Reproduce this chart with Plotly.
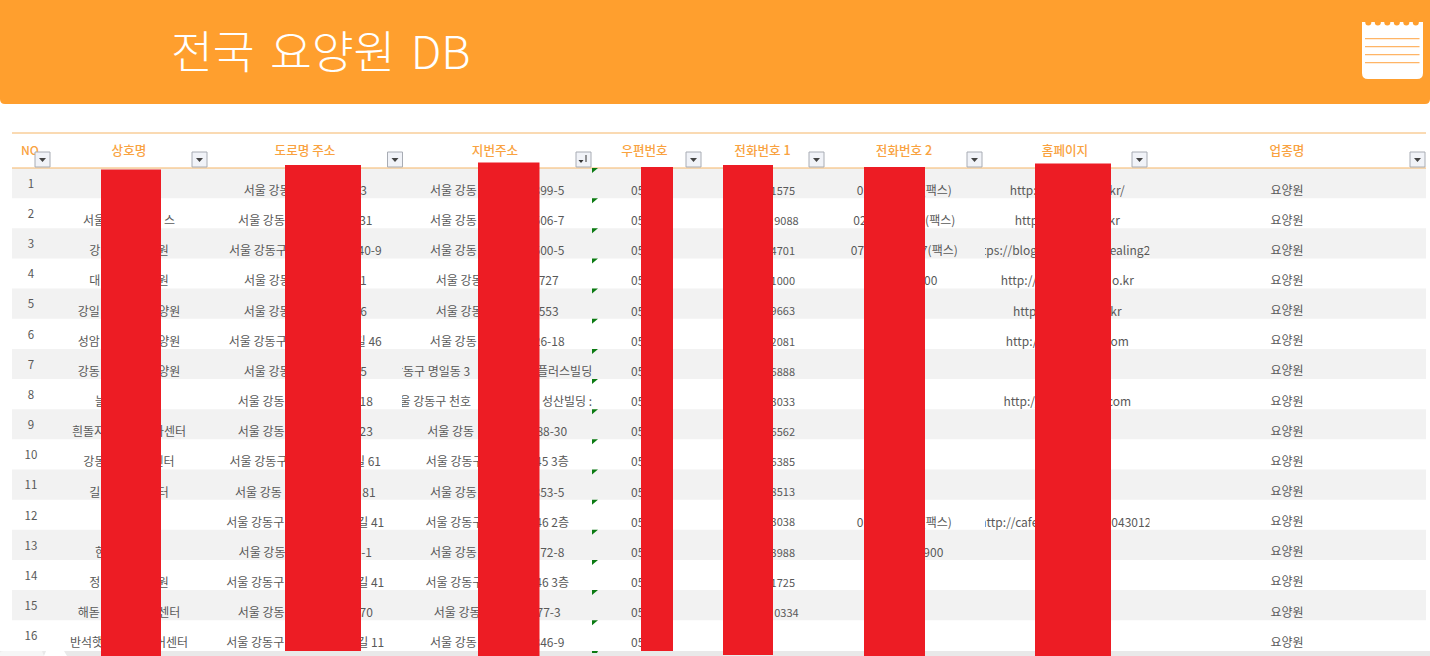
import plotly.graph_objects as go

# ---------- data: what is legible in the sheet (the rest is redacted in the source) ----------
TITLE = "전국\u2004요양원\u2004DB"
HEADERS = ["NO", "상호명", "도로명 주소", "지번주소", "우편번호", "전화번호 1", "전화번호 2", "홈페이지", "업종명"]
ROW_NUMBERS = list(range(1, 17))

name_left = ["", "서울", "강", "대", "강일", "성암", "강동", "늘", "흰돌지", "강동", "길", "", "한", "정", "해돋", "반석햇"]
name_right = ["", "스", "원", "원", "양원", "양원", "양원", "", "가센터", "센터", "터", "", "", "원", "센터", "어센터"]

road_left = ["서울 강동", "서울 강동", "서울 강동구", "서울 강동", "서울 강동", "서울 강동구", "서울 강동", "서울 강동",
             "서울 강동", "서울 강동구", "서울 강동", "서울 강동구", "서울 강동", "서울 강동구", "서울 강동", "서울 강동구"]
road_right = ["3", "31", "40-9", "1", "6", "길 46", "5", "18", "23", "길 61", "81", "길 41", "-1", "길 41", "70", "길 11"]

lot_left = ["서울 강동", "서울 강동", "서울 강동", "서울 강동", "서울 강동", "서울 강동", "서울 강동구 명일동 3", "서울 강동구 천호",
            "서울 강동", "서울 강동구", "서울 강동", "서울 강동구", "서울 강동", "서울 강동구", "서울 강동", "서울 강동"]
lot_right = ["399-5", "506-7", "500-5", "727", "553", "26-18", "플러스빌딩", "성산빌딩 :",
             "88-30", "45 3층", "353-5", "46 2층", "72-8", "46 3층", "77-3", "346-9"]

zip_left = ["05"] * 16

phone1_right = ["1575", "9088", "4701", "1000", "9663", "2081", "6888", "3033",
                "6562", "6385", "8513", "3038", "3988", "1725", "0334", ""]

phone2_left = ["0", "02", "07", "", "", "", "", "", "", "", "", "0", "", "", "", ""]
phone2_right = ["(팩스)", "(팩스)", "7(팩스)", "00", "", "", "", "", "", "", "", "(팩스)", "900", "", "", ""]

home_left = ["http://", "http://", "https://blog.n", "http://", "http://", "http://", "", "http://",
             "", "", "", "http://cafe", "", "", "", ""]
home_right = ["kr/", "kr", "ealing2", "o.kr", "kr", "com", "", "com",
              "", "", "", "043012", "", "", "", ""]

category = ["요양원"] * 16

# ---------- layout ----------
W, H = 1430, 656
ORANGE = "#FF9F2E"
HEAD = "#F9A240"
RULE = "#F5B566"
BAND = "#F2F2F2"
INK = "#595959"
RED = "#ED1C24"
GREEN = "#0B7A12"
FONT = "Noto Sans CJK KR"

ROW_TOP, ROW_H = 168.0, 30.15
TABLE_L, TABLE_R = 12, 1426

# text width of each centred cell, measured in pixels
name_w = [0, 92, 79.5, 79.5, 102.7, 102.7, 102.7, 68, 114, 91.3, 79.5, 0, 68, 79.5, 102.7, 118]
road_w = [123, 134.4, 152.7, 122.7, 123, 153, 123, 135, 135, 151.5, 140.7, 158, 133.4, 158, 135, 158]
lot_w = [134.3, 134.3, 134.3, 123, 123, 134.7, 260, 217.6, 140, 143, 134.3, 143.5, 134.3, 143.5, 127, 134.3]
lot_wr = list(lot_w)
lot_wr[6] = 190
lot_wr[7] = 190
zip_w = [58] * 16
phone1_w = [66, 73.4, 66, 66, 66, 66, 66, 66, 66, 66, 66, 66, 66, 66, 73.4, 66]
phone2_w = [95, 102, 107, 66, 0, 0, 0, 0, 0, 0, 0, 95, 78, 0, 0, 0]
home_w = [115, 105, 194, 133, 108.6, 123, 0, 127.7, 0, 0, 0, 176, 0, 0, 0, 0]
home_wr = list(home_w)
home_wr[2] = 166
home_wr[11] = 168

columns = [
    (129.0, name_left, name_right, name_w, name_w, 12),
    (305.3, road_left, road_right, road_w, road_w, 12),
    (497.2, lot_left, lot_right, lot_w, lot_wr, 12),
    (660.0, zip_left, [""] * 16, zip_w, zip_w, 12),
    (762.0, [""] * 16, phone1_right, phone1_w, phone1_w, 11),
    (904.3, phone2_left, phone2_right, phone2_w, phone2_w, 12),
    (1067.3, home_left, home_right, home_w, home_wr, 12),
]

header_x = [None, 129, 305, 495, 644.5, 762.5, 904, 1065, 1287]
button_x = [35, 192, 387.5, 576, 686, 809, 967, 1132, 1410]
bars = [(101, 161, 169.5, 656), (285, 361, 165, 651), (478, 539.5, 162.5, 656), (641, 673, 167, 651),
        (723, 773, 165, 655), (864, 925, 167, 656), (1035, 1111, 163.5, 656)]

row_y = lambda i: ROW_TOP + ROW_H * i
shapes = []


def rect(x0, y0, x1, y1, fill, line=None, layer="below"):
    shapes.append(dict(type="rect", x0=x0, y0=y0, x1=x1, y1=y1, fillcolor=fill, layer=layer,
                       line=dict(width=1 if line else 0, color=line or fill)))


def path(d, fill, layer="above"):
    shapes.append(dict(type="path", path=d, fillcolor=fill, layer=layer, line=dict(width=0)))


# banner
path(f"M0,0 L{W},0 L{W},99 Q{W},104 {W-5},104 L5,104 Q0,104 0,99 Z", ORANGE, "below")

# table bands and rules
for i in range(0, 16, 2):
    rect(TABLE_L, row_y(i), TABLE_R, row_y(i + 1), BAND)
rect(0, 651, W, H, "#E9E9E9")
path("M0,656 L0,653 Q0,651 3,651 L42,651 L44,656 Z", "#F6F6F6", "below")
path("M44,656 L46,651 L64,651 L67,656 Z", "#FFFFFF", "below")
for yy in (133, 168):
    shapes.append(dict(type="line", x0=TABLE_L, x1=TABLE_R, y0=yy, y1=yy, layer="below",
                       line=dict(color=RULE, width=1)))

fig = go.Figure()


def add_text(xs, ys, texts, pos, color=INK, size=12, weight=None):
    font = dict(family=FONT, size=size, color=color)
    if weight:
        font["weight"] = weight
    fig.add_trace(go.Scatter(x=xs, y=ys, text=texts, mode="text", textposition=pos,
                             textfont=font, hoverinfo="skip", showlegend=False, cliponaxis=False))


# title and headers
add_text([171], [58], [TITLE], "middle right", "#FFFFFF", 45.5, 300)
add_text([21], [152], [HEADERS[0]], "middle right", HEAD, 12, 500)
add_text(header_x[1:], [152] * 8, HEADERS[1:], "middle center", HEAD, 12.6, 500)

# cells
add_text([31] * 16, [row_y(i) + 17 for i in range(16)], [str(n) for n in ROW_NUMBERS], "middle center", INK, 11.5)
for cx, left, right, wl, wr, size in columns:
    xs, ys, ts = [], [], []
    for i, t in enumerate(left):
        if t:
            xs.append(cx - wl[i] / 2)
            ys.append(row_y(i) + 24)
            ts.append(t)
    add_text(xs, ys, ts, "middle right", INK, size)
    xs, ys, ts = [], [], []
    for i, t in enumerate(right):
        if t:
            xs.append(cx + wr[i] / 2)
            ys.append(row_y(i) + 24)
            ts.append(t)
    add_text(xs, ys, ts, "middle left", INK, size)
add_text([1287] * 16, [row_y(i) + 23.5 for i in range(16)], category, "middle center")

# cell clipping where long values overflow their column
for i, cover_from in ((6, 367), (7, 386)):
    bg = BAND if i % 2 == 0 else "#FFFFFF"
    rect(cover_from, row_y(i) + 10, 402, row_y(i) + 29, bg, layer="above")
    rect(592, row_y(i) + 6, 600, row_y(i) + 29, bg, layer="above")
for i in (2, 11):
    bg = BAND if i % 2 == 0 else "#FFFFFF"
    rect(965, row_y(i) + 10, 985, row_y(i) + 29, bg, layer="above")
    rect(1149.5, row_y(i) + 10, 1170, row_y(i) + 29, bg, layer="above")

# green error markers
for i in range(17):
    y = row_y(i) if i < 16 else 651
    h = 5 if i < 16 else 2
    path(f"M592,{y} L598,{y} L597,{y+h} L592,{y+h} Z" if i == 16 else f"M592,{y} L598,{y} L592,{y+h} Z",
         GREEN, "above")

# filter buttons
for n, bx in enumerate(button_x):
    rect(bx, 152, bx + 15, 167, "#F1F3F8", "#A8ACB4", "above")
    if n == 3:
        path(f"M{bx+2.5},160 L{bx+7.5},160 L{bx+5},163 Z", "#333333")
        shapes.append(dict(type="line", x0=bx + 10, x1=bx + 10, y0=155, y1=162, layer="above",
                           line=dict(color="#333333", width=1)))
    else:
        path(f"M{bx+4},158 L{bx+11},158 L{bx+7.5},162 Z", "#444444")

# redaction bars
for x0, x1, y0, y1 in bars:
    rect(x0, y0, x1, y1, RED, layer="above")

# notepad icon
path("M1362,22 L1423,22 L1423,73 Q1423,79 1417,79 L1368,79 Q1362,79 1362,73 Z", "#FFFFFF")
for k in range(6):
    cx = 1368.3 + 9.5 * k
    shapes.append(dict(type="circle", x0=cx - 3, x1=cx + 3, y0=19.5, y1=25.5, layer="above",
                       fillcolor=ORANGE, line=dict(width=0)))
for yy in (38.7, 46.7, 54.7, 62.7):
    shapes.append(dict(type="line", x0=1365, x1=1419.5, y0=yy, y1=yy, layer="above",
                       line=dict(color="#FFB566", width=1.2)))

fig.update_layout(
    width=W, height=H, margin=dict(l=0, r=0, t=0, b=0, pad=0),
    paper_bgcolor="#FFFFFF", plot_bgcolor="#FFFFFF", shapes=shapes, showlegend=False,
    xaxis=dict(range=[0, W], visible=False, fixedrange=True),
    yaxis=dict(range=[H, 0], visible=False, fixedrange=True),
)
fig.write_html("out.html", config={"displayModeBar": False},
               post_script="document.body.style.margin='0';document.body.style.overflow='hidden';")
